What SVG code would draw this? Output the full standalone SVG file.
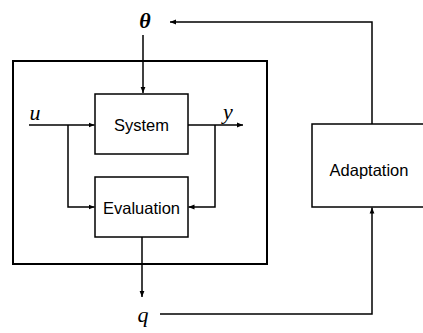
<svg xmlns="http://www.w3.org/2000/svg" width="423" height="333" viewBox="0 0 423 333">
<style>
.box{fill:#fff;stroke:#000;stroke-width:1.5}
.outer{fill:none;stroke:#000;stroke-width:2}
.ln{fill:none;stroke:#000;stroke-width:1.5}
.lbl{font-family:"Liberation Sans",Arial,sans-serif;font-size:16.5px;fill:#000;text-anchor:middle}
.var{font-family:"Liberation Serif","Times New Roman",serif;font-style:italic;font-size:22px;fill:#000;text-anchor:middle}
</style>
<defs>
<marker id="ah" viewBox="0 0 10 10" refX="10" refY="5" markerWidth="6" markerHeight="6" markerUnits="userSpaceOnUse" orient="auto">
<path d="M0,1 L10,5 L0,9 Z" fill="#000"/>
</marker>
</defs>
<g id="outer"><rect class="outer" x="13" y="61" width="254" height="203"/></g>
<g id="system"><rect class="box" x="95" y="94" width="93" height="60"/><text class="lbl" x="141.5" y="131">System</text></g>
<g id="evaluation"><rect class="box" x="95" y="177" width="93" height="60"/><text class="lbl" x="141.5" y="214">Evaluation</text></g>
<g id="adaptation"><rect class="box" x="312" y="124" width="116" height="83"/><text class="lbl" x="369" y="176">Adaptation</text></g>
<g id="labels">
<text class="var" x="145" y="28" font-size="25" font-weight="bold">θ</text>
<text class="var" x="35" y="120" font-size="21">u</text>
<text class="var" x="228" y="119" font-size="21">y</text>
<text class="var" x="143" y="322" font-size="26">q</text>
</g>
<g id="connectors">
<line class="ln" x1="143" y1="35" x2="143" y2="93" marker-end="url(#ah)"/>
<line class="ln" x1="29" y1="125" x2="94.5" y2="125" marker-end="url(#ah)"/>
<polyline class="ln" points="68,125 68,207 94.5,207" marker-end="url(#ah)"/>
<line class="ln" x1="188" y1="125" x2="243" y2="125" marker-end="url(#ah)"/>
<polyline class="ln" points="215,125 215,207 188.5,207" marker-end="url(#ah)"/>
<line class="ln" x1="142" y1="237" x2="142" y2="297" marker-end="url(#ah)"/>
<polyline class="ln" points="372,124 372,22 170,22" marker-end="url(#ah)"/>
<polyline class="ln" points="160,314 372,314 372,207.5" marker-end="url(#ah)"/>
</g>
</svg>
